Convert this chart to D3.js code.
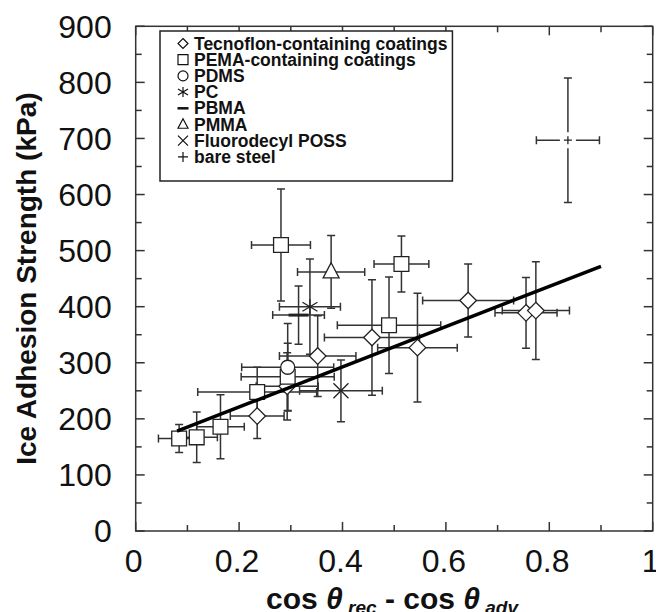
<!DOCTYPE html>
<html>
<head>
<meta charset="utf-8">
<script src="https://cdn.jsdelivr.net/npm/d3@7"></script>
<style>
  body { margin: 0; background: #fff; }
  text { font-family: Arial, "Liberation Sans", sans-serif; }
</style>
</head>
<body>
<svg id="chart" width="656" height="612"></svg>
<script>
// each row: x, y (kPa), x error, y error
const tecnoflon = [
  [0.235, 205, 0.052, 40],
  [0.293, 258, 0.06, 60],
  [0.352, 312, 0.074, 72],
  [0.457, 345, 0.092, 103],
  [0.545, 327, 0.077, 97],
  [0.643, 411, 0.088, 65],
  [0.755, 389, 0.06, 63],
  [0.774, 393, 0.065, 87]
];
const pema = [
  [0.084, 165, 0.04, 25],
  [0.118, 167, 0.04, 45],
  [0.164, 186, 0.046, 57],
  [0.235, 248, 0.115, 44],
  [0.294, 275, 0.09, 60],
  [0.281, 510, 0.057, 100],
  [0.490, 367, 0.10, 86],
  [0.514, 476, 0.053, 50]
];
const pdms = [[0.294, 292, 0.089, 78]];
const pc = [[0.337, 400, 0.059, 85]];
const pbma = [[0.315, 385, 0.05, 52]];
const pmma = [[0.378, 462, 0.065, 65]];
const poss = [[0.397, 250, 0.08, 55]];
const bareSteel = [[0.836, 697, 0.061, 111]];

// least squares line drawn in the figure (end points)
const fitX = [0.08, 0.90];
const fitY = [178, 472];

const legendLabels = [
  'Tecnoflon-containing coatings',
  'PEMA-containing coatings',
  'PDMS',
  'PC',
  'PBMA',
  'PMMA',
  'Fluorodecyl POSS',
  'bare steel'
];
const xTicks = [0, 0.2, 0.4, 0.6, 0.8, 1];
const yTicks = [0, 100, 200, 300, 400, 500, 600, 700, 800, 900];

const svg = d3.select('#chart');
const margin = { left: 135.7, right: 3.3, top: 26.3, bottom: 81 };
const width = 656 - margin.left - margin.right;
const height = 612 - margin.top - margin.bottom;

const x = d3.scaleLinear().domain([0, 1]).range([0, width]);
const y = d3.scaleLinear().domain([0, 900]).range([height, 0]);

const main = svg.append('g')
  .attr('transform', `translate(${margin.left},${margin.top})`);

// marker shapes, centred at 0,0
const markers = {
  diamond: s => `M0,${-s}L${s},0L0,${s}L${-s},0Z`,
  square: s => `M${-s},${-s}H${s}V${s}H${-s}Z`,
  circle: s => `M${-s},0A${s},${s} 0 1,0 ${s},0A${s},${s} 0 1,0 ${-s},0Z`,
  asterisk: s => `M${-s},${-s * 0.6}L${s},${s * 0.6}M${-s},${s * 0.6}L${s},${-s * 0.6}M0,${-s}V${s}`,
  dash: s => `M${-s},0H${s}`,
  triangle: s => `M0,${-s * 1.15}L${s},${s * 0.75}L${-s},${s * 0.75}Z`,
  cross: s => `M${-s},${-s}L${s},${s}M${-s},${s}L${s},${-s}`,
  plus: s => `M${-s},0H${s}M0,${-s}V${s}`
};

const series = [
  { data: tecnoflon, shape: 'diamond', size: 8.3, fill: '#fff', sw: 1.3 },
  { data: pema, shape: 'square', size: 7.4, fill: '#fff', sw: 1.3 },
  { data: pdms, shape: 'circle', size: 7, fill: '#fff', sw: 1.3 },
  { data: pc, shape: 'asterisk', size: 7.5, fill: 'none', sw: 1.3 },
  { data: pbma, shape: 'dash', size: 10, fill: 'none', sw: 3 },
  { data: pmma, shape: 'triangle', size: 8, fill: '#fff', sw: 1.3 },
  { data: poss, shape: 'cross', size: 7.5, fill: 'none', sw: 1.3 },
  { data: bareSteel, shape: 'plus', size: 4, fill: 'none', sw: 1.3 }
];

// error bars
const cap = 4;
const bars = main.append('g').attr('class', 'errorbars')
  .attr('stroke', '#333').attr('stroke-width', 1.5).attr('fill', 'none');
series.forEach(s => {
  s.data.forEach(d => {
    const [cx, cy, ex, ey] = d;
    const px = x(cx), py = y(cy);
    const x0 = x(cx - ex), x1 = x(cx + ex);
    const y0 = y(cy - ey), y1 = y(cy + ey);
    bars.append('path')
      .attr('d', `M${x0},${py}H${x1}M${x0},${py - cap}V${py + cap}M${x1},${py - cap}V${py + cap}` +
        `M${px},${y0}V${y1}M${px - cap},${y0}H${px + cap}M${px - cap},${y1}H${px + cap}`);
  });
});

// markers
series.forEach(s => {
  const g = main.append('g');
  if (s.shape === 'plus') {
    // bare steel cross sits on a small white halo, as in the original
    g.selectAll('.halo')
      .data(s.data)
      .join('path')
      .attr('class', 'halo')
      .attr('transform', d => `translate(${x(d[0])},${y(d[1])})`)
      .attr('d', markers.plus(8))
      .attr('stroke', '#fff')
      .attr('stroke-width', 3);
  }
  g.selectAll('.mark')
    .data(s.data)
    .join('path')
    .attr('class', 'mark')
    .attr('transform', d => `translate(${x(d[0])},${y(d[1])})`)
    .attr('d', markers[s.shape](s.size))
    .attr('fill', s.fill)
    .attr('stroke', '#222')
    .attr('stroke-width', s.sw);
});

// fit line
main.append('path')
  .datum(fitX.map((v, i) => [v, fitY[i]]))
  .attr('fill', 'none')
  .attr('stroke', '#000')
  .attr('stroke-width', 3.5)
  .attr('d', d3.line().x(d => x(d[0])).y(d => y(d[1])));

// frame and ticks (inward, on all four sides)
main.append('rect')
  .attr('width', width).attr('height', height)
  .attr('fill', 'none').attr('stroke', '#333').attr('stroke-width', 1.5);

const tickG = main.append('g').attr('stroke', '#333').attr('stroke-width', 1.5);
d3.range(0, 1.0001, 0.1).forEach((v, i) => {
  const len = i % 2 === 0 ? 9 : 6;
  tickG.append('line').attr('x1', x(v)).attr('x2', x(v)).attr('y1', height).attr('y2', height - len);
  tickG.append('line').attr('x1', x(v)).attr('x2', x(v)).attr('y1', 0).attr('y2', len);
});
d3.range(0, 901, 50).forEach((v, i) => {
  const len = i % 2 === 0 ? 9 : 6;
  tickG.append('line').attr('y1', y(v)).attr('y2', y(v)).attr('x1', 0).attr('x2', len);
  tickG.append('line').attr('y1', y(v)).attr('y2', y(v)).attr('x1', width).attr('x2', width - len);
});

main.append('g').selectAll('text')
  .data(xTicks)
  .join('text')
  .attr('x', d => x(d) - 2)
  .attr('y', height + 41)
  .attr('text-anchor', 'middle')
  .attr('font-size', 32)
  .attr('fill', '#111')
  .text(d => d3.format('~g')(d));

main.append('g').selectAll('text')
  .data(yTicks)
  .join('text')
  .attr('x', -24)
  .attr('y', d => y(d) + 11.5)
  .attr('text-anchor', 'end')
  .attr('font-size', 32)
  .attr('fill', '#111')
  .text(d => d);

// axis titles
svg.append('text')
  .attr('transform', `translate(36,${margin.top + height / 2}) rotate(-90)`)
  .attr('text-anchor', 'middle')
  .attr('font-size', 28)
  .attr('font-weight', 'bold')
  .attr('fill', '#111')
  .text('Ice Adhesion Strength (kPa)');

const xt = svg.append('text')
  .attr('x', 392)
  .attr('y', 609)
  .attr('text-anchor', 'middle')
  .attr('font-size', 30)
  .attr('font-weight', 'bold')
  .attr('fill', '#111');
xt.append('tspan').text('cos ');
xt.append('tspan').attr('font-style', 'italic').text('θ');
xt.append('tspan').attr('font-size', 19).attr('font-style', 'italic').attr('dy', 5).text(' rec');
xt.append('tspan').attr('dy', -5).text(' - cos ');
xt.append('tspan').attr('font-style', 'italic').text('θ');
xt.append('tspan').attr('font-size', 19).attr('font-style', 'italic').attr('dy', 5).text(' adv');

// legend
const legend = svg.append('g');
const legendBox = legend.append('rect')
  .attr('x', 160).attr('y', 31).attr('height', 150)
  .attr('fill', '#fff').attr('stroke', '#222').attr('stroke-width', 1.5);
const legendShapes = ['diamond', 'square', 'circle', 'asterisk', 'dash', 'triangle', 'cross', 'plus'];
let widest = 0;
legendLabels.forEach((label, i) => {
  const cy = 43.5 + i * 16.2;
  legend.append('path')
    .attr('transform', `translate(183,${cy})`)
    .attr('d', markers[legendShapes[i]](legendShapes[i] === 'dash' ? 5.5 : 5))
    .attr('fill', 'none')
    .attr('stroke', '#111')
    .attr('stroke-width', legendShapes[i] === 'dash' ? 2.5 : 1.2);
  const t = legend.append('text')
    .attr('x', 194)
    .attr('y', cy + 6)
    .attr('font-size', 17.5)
    .attr('font-weight', 'bold')
    .attr('fill', '#111')
    .text(label);
  widest = Math.max(widest, t.node().getComputedTextLength());
});
legendBox.attr('width', 194 - 160 + widest + 5);
</script>
</body>
</html>
